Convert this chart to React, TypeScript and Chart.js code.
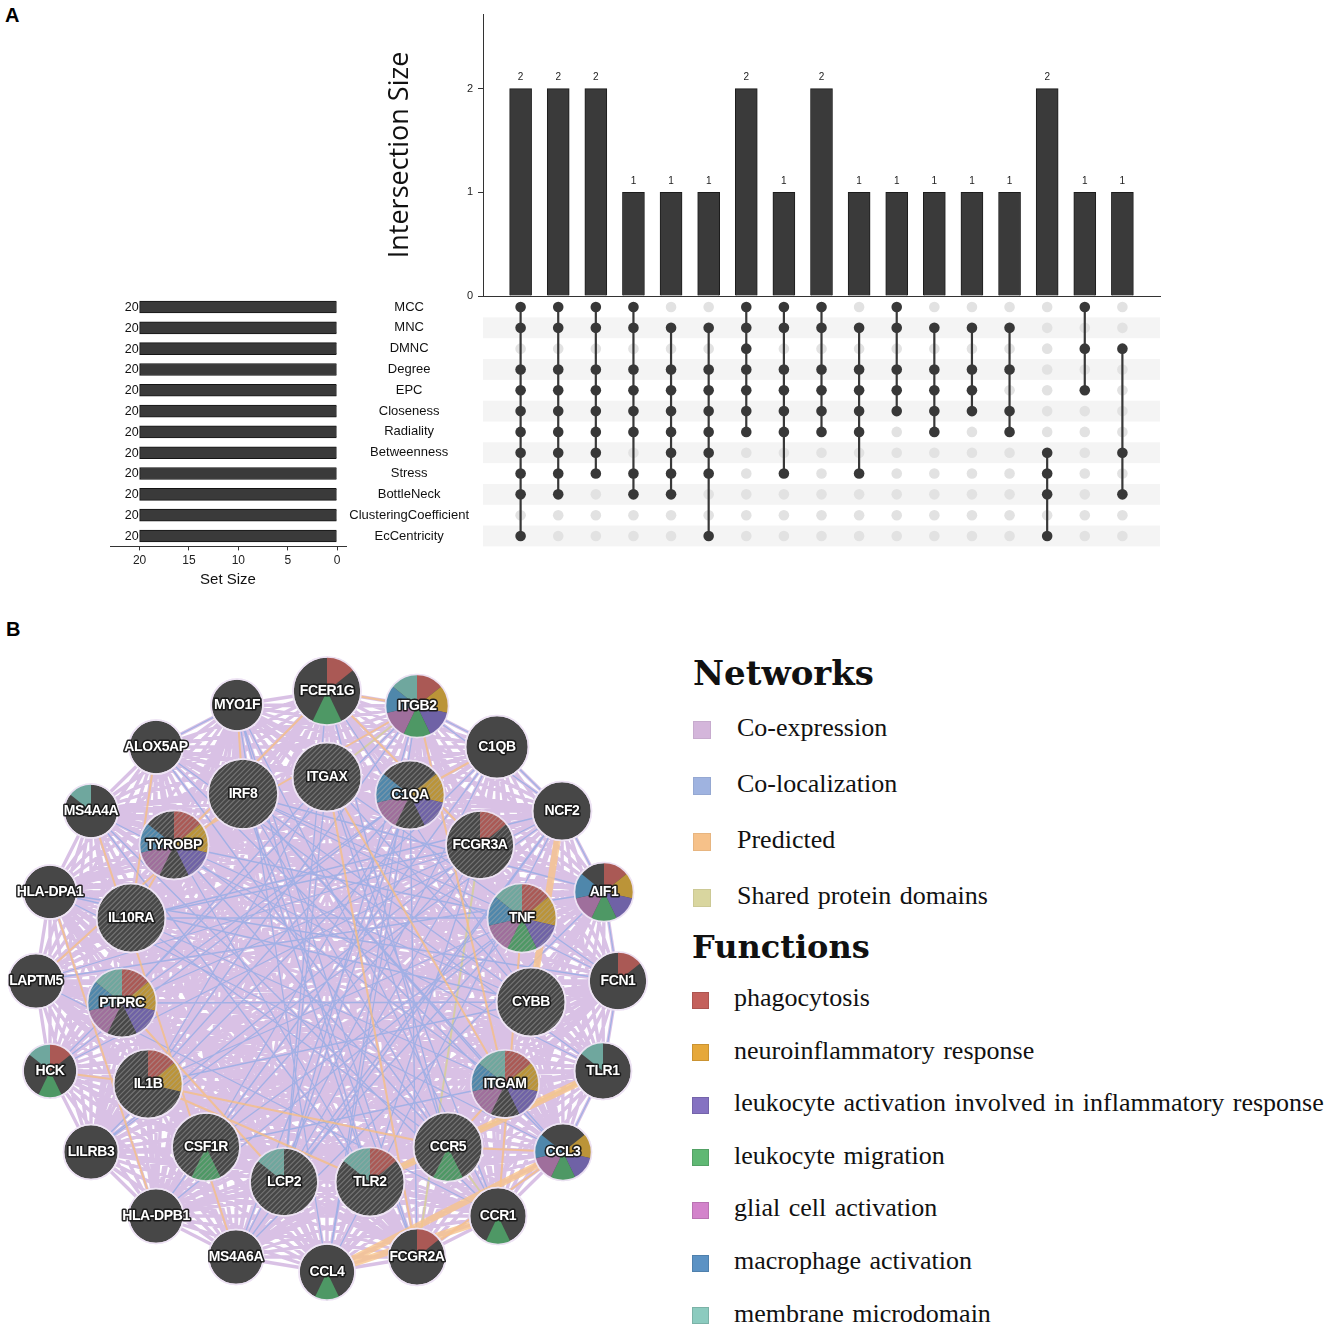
import React, { useEffect, useRef } from 'react';
import { Chart, registerables } from 'chart.js';

Chart.register(...registerables);

const SANS = '"Liberation Sans", Arial, sans-serif';
const SERIF = '"Liberation Serif", "Times New Roman", serif';
const SERIF_BOLD = '"DejaVu Serif", serif';

// ---------------- Panel A data ----------------
const setNames = ['MCC', 'MNC', 'DMNC', 'Degree', 'EPC', 'Closeness', 'Radiality', 'Betweenness', 'Stress', 'BottleNeck', 'ClusteringCoefficient', 'EcCentricity'];
const setSizes = [20, 20, 20, 20, 20, 20, 20, 20, 20, 20, 20, 20];
const setSizeTicks = [20, 15, 10, 5, 0];
const intersectionTicks = [0, 1, 2];
const intersectionSizes = [2, 2, 2, 1, 1, 1, 2, 1, 2, 1, 1, 1, 1, 1, 2, 1, 1];
// row indices (into setNames) that belong to each intersection column
const intersectionMembers = [
  [0, 1, 3, 4, 5, 6, 7, 8, 9, 11],
  [0, 1, 3, 4, 5, 6, 7, 8, 9],
  [0, 1, 3, 4, 5, 6, 7, 8],
  [0, 1, 3, 4, 5, 6, 8, 9],
  [1, 3, 4, 5, 6, 7, 8, 9],
  [1, 3, 4, 5, 6, 7, 8, 11],
  [0, 1, 2, 3, 4, 5, 6],
  [0, 1, 3, 4, 5, 6, 8],
  [0, 1, 3, 4, 5, 6],
  [1, 3, 4, 5, 6, 8],
  [0, 1, 3, 4, 5],
  [1, 3, 4, 5, 6],
  [1, 3, 4, 5],
  [1, 3, 5, 6],
  [7, 8, 9, 11],
  [0, 2, 4],
  [2, 7, 9],
];

// ---------------- Panel B data ----------------
const geneNames = ['MYO1F', 'FCER1G', 'ITGB2', 'C1QB', 'NCF2', 'AIF1', 'FCN1', 'TLR1', 'CCL3', 'CCR1', 'FCGR2A', 'CCL4', 'MS4A6A', 'HLA-DPB1', 'LILRB3', 'HCK', 'LAPTM5', 'HLA-DPA1', 'MS4A4A', 'ALOX5AP',
  'IRF8', 'ITGAX', 'C1QA', 'FCGR3A', 'TNF', 'CYBB', 'ITGAM', 'CCR5', 'TLR2', 'LCP2', 'CSF1R', 'IL1B', 'PTPRC', 'IL10RA', 'TYROBP'];
const geneX = [237, 327, 417, 497, 562, 604, 618, 603, 563, 498, 417, 327, 236, 156, 91, 50, 36, 50, 91, 156,
  243, 327, 410, 480, 522, 531, 505, 448, 370, 284, 206, 148, 122, 131, 174];
const geneY = [705, 691, 706, 747, 811, 892, 981, 1071, 1152, 1216, 1257, 1272, 1257, 1216, 1152, 1071, 981, 892, 811, 747,
  794, 777, 795, 845, 918, 1002, 1084, 1147, 1182, 1182, 1147, 1084, 1003, 918, 845];
const geneR = [26, 34, 31.5, 31.5, 29.5, 29.5, 29, 28.5, 28.5, 28.5, 28.5, 28, 27.5, 27.5, 27.5, 27, 27.5, 27, 27, 27,
  35, 34.5, 34.5, 34, 34.5, 34.5, 34, 34.5, 34.5, 34, 34, 34.5, 34.5, 34.5, 34.5];
// function indices per gene (0 phagocytosis ... 6 membrane microdomain)
const geneFunctions = [
  [], [0, 3], [0, 1, 2, 3, 4, 5, 6], [], [], [0, 1, 2, 3, 4, 5], [0], [6], [1, 2, 3, 4, 5], [3], [0], [3], [], [], [], [0, 3, 6], [], [], [6], [],
  [], [], [1, 2, 4, 5], [0], [0, 1, 2, 3, 4, 5, 6], [], [0, 1, 2, 4, 5, 6], [3], [0, 6], [6], [3], [0, 1], [0, 1, 2, 4, 5, 6], [], [0, 1, 2, 4, 5],
];
const queryGenes = ['IRF8', 'ITGAX', 'C1QA', 'FCGR3A', 'TNF', 'CYBB', 'ITGAM', 'CCR5', 'TLR2', 'LCP2', 'CSF1R', 'IL1B', 'PTPRC', 'IL10RA', 'TYROBP'];

const coLocalizationEdges = [
  ['ITGAX', 'CCR5'], ['ITGAX', 'LCP2'], ['ITGAX', 'CYBB'], ['ITGAX', 'IL1B'], ['ITGAX', 'PTPRC'], ['IRF8', 'TNF'], ['IRF8', 'ITGAM'], ['IRF8', 'CCR5'],
  ['IRF8', 'CYBB'], ['C1QA', 'IL1B'], ['C1QA', 'CSF1R'], ['C1QA', 'PTPRC'], ['C1QA', 'LCP2'], ['FCGR3A', 'PTPRC'], ['FCGR3A', 'IL10RA'], ['FCGR3A', 'CSF1R'],
  ['FCGR3A', 'TLR2'], ['TNF', 'TYROBP'], ['TNF', 'IL10RA'], ['TNF', 'LCP2'], ['CYBB', 'TYROBP'], ['CYBB', 'PTPRC'], ['CYBB', 'IL1B'], ['ITGAM', 'IL10RA'],
  ['ITGAM', 'TYROBP'], ['ITGAM', 'CSF1R'], ['CCR5', 'TYROBP'], ['CCR5', 'IL10RA'], ['TLR2', 'TYROBP'], ['TLR2', 'IRF8'], ['LCP2', 'FCGR3A'], ['IL1B', 'TNF'],
  ['CSF1R', 'TNF'], ['FCER1G', 'LCP2'], ['FCER1G', 'CCR5'], ['FCER1G', 'CYBB'], ['ITGB2', 'CCL4'], ['ITGB2', 'LCP2'], ['ITGB2', 'HCK'], ['ITGB2', 'IL1B'],
  ['C1QB', 'LILRB3'], ['C1QB', 'MS4A6A'], ['C1QB', 'CSF1R'], ['NCF2', 'HCK'], ['NCF2', 'IL10RA'], ['NCF2', 'LCP2'], ['AIF1', 'LAPTM5'], ['AIF1', 'IRF8'],
  ['AIF1', 'MS4A6A'], ['FCN1', 'HLA-DPA1'], ['FCN1', 'IRF8'], ['FCN1', 'ITGAX'], ['TLR1', 'MS4A4A'], ['TLR1', 'ALOX5AP'], ['CCL3', 'ALOX5AP'], ['CCL3', 'IRF8'],
  ['CCR1', 'MYO1F'], ['CCR1', 'ITGAX'], ['FCGR2A', 'IRF8'], ['FCGR2A', 'C1QA'], ['FCGR2A', 'MYO1F'], ['MS4A6A', 'C1QA'], ['MS4A6A', 'NCF2'], ['HLA-DPB1', 'TNF'],
  ['HLA-DPB1', 'C1QB'], ['LILRB3', 'FCGR3A'], ['LILRB3', 'NCF2'], ['HCK', 'C1QA'], ['LAPTM5', 'FCGR3A'], ['LAPTM5', 'CCR1'], ['HLA-DPA1', 'CCL3'], ['HLA-DPA1', 'CYBB'],
  ['MS4A4A', 'TLR2'], ['MS4A4A', 'CCR1'], ['ALOX5AP', 'CCR5'], ['MYO1F', 'CCL4'], ['MYO1F', 'TLR2'], ['CCL4', 'C1QA'], ['CCL4', 'NCF2'],
  ['ITGB2', 'C1QB'], ['C1QB', 'NCF2'], ['NCF2', 'AIF1'], ['AIF1', 'FCN1'], ['FCN1', 'TLR1'], ['TLR1', 'CCL3'], ['MYO1F', 'ALOX5AP'], ['ITGB2', 'NCF2'],
];
const predictedEdges = [
  ['ITGAX', 'ITGAM'], ['ITGB2', 'ITGAM'], ['ITGB2', 'TYROBP'], ['FCER1G', 'TYROBP'], ['FCER1G', 'ITGB2'], ['HLA-DPA1', 'HLA-DPB1'], ['MS4A4A', 'MS4A6A'],
  ['IL1B', 'TLR2'], ['IL1B', 'CCR5'], ['ALOX5AP', 'IL10RA'], ['TYROBP', 'IL10RA'], ['CCR5', 'ITGAM'], ['FCER1G', 'FCGR3A'], ['C1QA', 'C1QB'],
  ['CCR5', 'CCL3'], ['IRF8', 'LAPTM5'], ['TNF', 'CCR1'], ['FCGR2A', 'CCL3'], ['ITGAX', 'FCGR2A'], ['PTPRC', 'LCP2'], ['HCK', 'IL1B'], ['MYO1F', 'IRF8'],
];
const predictedStrongEdges = [['CCL4', 'CCL3'], ['TLR2', 'TLR1'], ['CCL4', 'CCR1'], ['NCF2', 'CYBB']];
const sharedDomainEdges = [['CCR1', 'CCR5'], ['FCGR2A', 'FCGR3A'], ['TLR1', 'TLR2'], ['ITGAX', 'ITGB2']];

const functionNames = ['phagocytosis', 'neuroinflammatory response', 'leukocyte activation involved in inflammatory response', 'leukocyte migration', 'glial cell activation', 'macrophage activation', 'membrane microdomain'];
const functionColors = ['#c4615c', '#e6a83a', '#8572c2', '#5fb873', '#d383cb', '#5b92c4', '#8ccbbf'];
const functionNodeColors = ['#aa5955', '#bb9438', '#6f62a6', '#4e9865', '#9f6f9c', '#4f87ab', '#6fa79e'];
const networkNames = ['Co-expression', 'Co-localization', 'Predicted', 'Shared protein domains'];
const networkColors = ['#d4b6db', '#9fb3e0', '#f6c189', '#d9d69f'];

// ---------------- helpers ----------------
const geneIndex = (n: string) => geneNames.indexOf(n);
function edgePoints(pairs: string[][]) {
  const pts: any[] = [];
  pairs.forEach(([a, b]) => {
    const i = geneIndex(a);
    const j = geneIndex(b);
    pts.push({ x: geneX[i], y: geneY[i] }, { x: geneX[j], y: geneY[j] }, { x: null, y: null });
  });
  return pts;
}
function allPairs() {
  const pairs: string[][] = [];
  for (let i = 0; i < geneNames.length; i++) for (let j = i + 1; j < geneNames.length; j++) pairs.push([geneNames[i], geneNames[j]]);
  return pairs;
}

const intersectionLabelPlugin = {
  id: 'intersectionLabels',
  afterDatasetsDraw(chart: any) {
    const { ctx } = chart;
    const meta = chart.getDatasetMeta(0);
    ctx.save();
    ctx.font = `10px ${SANS}`;
    ctx.fillStyle = '#222';
    ctx.textAlign = 'center';
    ctx.textBaseline = 'bottom';
    meta.data.forEach((el: any, i: number) => ctx.fillText(String(intersectionSizes[i]), el.x, el.y - 6));
    ctx.restore();
  },
};

const setSizeLabelPlugin = {
  id: 'setSizeLabels',
  afterDatasetsDraw(chart: any) {
    const { ctx } = chart;
    const meta = chart.getDatasetMeta(0);
    ctx.save();
    ctx.font = `12.5px ${SANS}`;
    ctx.fillStyle = '#111';
    ctx.textAlign = 'right';
    ctx.textBaseline = 'middle';
    meta.data.forEach((el: any, i: number) => ctx.fillText(String(setSizes[i]), el.x - 1, el.y + 0.5));
    ctx.restore();
  },
};

const bandPlugin = {
  id: 'rowBands',
  beforeDatasetsDraw(chart: any) {
    const { ctx, chartArea, scales } = chart;
    const y = scales.y;
    ctx.save();
    ctx.fillStyle = '#f4f4f4';
    setNames.forEach((_, i) => {
      if (i % 2 === 1) {
        const t = y.getPixelForValue(i - 0.5);
        const b = y.getPixelForValue(i + 0.5);
        ctx.fillRect(chartArea.left, t, chartArea.right - chartArea.left, b - t);
      }
    });
    ctx.restore();
  },
};

const genePiePlugin = {
  id: 'genePies',
  afterDatasetsDraw(chart: any) {
    const ctx = chart.ctx;
    const meta = chart.getDatasetMeta(chart.data.datasets.length - 1);
    const step = (Math.PI * 2) / 7;
    meta.data.forEach((el: any, i: number) => {
      const x = el.x;
      const y = el.y;
      const r = geneR[i];
      ctx.save();
      geneFunctions[i].forEach((f) => {
        const a0 = -Math.PI / 2 + f * step;
        ctx.beginPath();
        ctx.moveTo(x, y);
        ctx.arc(x, y, r, a0, a0 + step);
        ctx.closePath();
        ctx.fillStyle = functionNodeColors[f];
        ctx.fill();
      });
      if (queryGenes.includes(geneNames[i])) {
        ctx.save();
        ctx.beginPath();
        ctx.arc(x, y, r, 0, Math.PI * 2);
        ctx.clip();
        ctx.strokeStyle = 'rgba(170,170,170,0.45)';
        ctx.lineWidth = 1.1;
        for (let d = -2 * r; d <= 2 * r; d += 5.2) {
          ctx.beginPath();
          ctx.moveTo(x + d - r, y + r);
          ctx.lineTo(x + d + r, y - r);
          ctx.stroke();
        }
        ctx.restore();
      }
      ctx.beginPath();
      ctx.arc(x, y, r, 0, Math.PI * 2);
      ctx.strokeStyle = 'rgba(238,228,244,0.95)';
      ctx.lineWidth = 1.6;
      ctx.stroke();
      ctx.font = `bold 14px ${SANS}`;
      (ctx as any).letterSpacing = '-0.4px';
      ctx.textAlign = 'center';
      ctx.textBaseline = 'middle';
      ctx.lineJoin = 'round';
      ctx.lineWidth = 3.2;
      ctx.strokeStyle = 'rgba(25,25,25,0.95)';
      ctx.strokeText(geneNames[i], x, y);
      ctx.fillStyle = '#ffffff';
      ctx.fillText(geneNames[i], x, y);
      (ctx as any).letterSpacing = '0px';
      ctx.restore();
    });
  },
};

export default function App() {
  const topRef = useRef<HTMLCanvasElement>(null);
  const setRef = useRef<HTMLCanvasElement>(null);
  const matRef = useRef<HTMLCanvasElement>(null);
  const netRef = useRef<HTMLCanvasElement>(null);

  useEffect(() => {
    const charts: Chart[] = [];

    charts.push(new Chart(topRef.current!, {
      type: 'bar',
      data: {
        datasets: [{
          data: intersectionSizes.map((v, i) => ({ x: i, y: v })),
          backgroundColor: '#3a3a3a',
          borderColor: '#1c1c1c',
          borderWidth: 1,
          barThickness: 22,
        }],
      },
      options: {
        responsive: false,
        animation: false,
        layout: { autoPadding: false, padding: { top: 14, right: 10, bottom: 14, left: 0 } },
        plugins: { legend: { display: false }, tooltip: { enabled: false } },
        scales: {
          x: {
            type: 'linear', min: -1, max: 17, offset: false,
            ticks: { display: false }, grid: { display: false },
            border: { display: true, color: '#333', width: 1 },
            afterFit: (s: any) => { s.height = 0; },
          },
          y: {
            type: 'linear', min: 0, max: 2.72,
            afterBuildTicks: (s: any) => { s.ticks = intersectionTicks.map((v) => ({ value: v })); },
            ticks: { font: { size: 11, family: SANS }, color: '#222', padding: 5 },
            grid: { drawOnChartArea: false, drawTicks: true, tickLength: 5, color: '#333' },
            border: { color: '#333', width: 1 },
            title: { display: true, text: 'Intersection Size', font: { size: 27, family: '"Open Sans", sans-serif' }, color: '#111', padding: { top: 14, bottom: 0 } },
            afterFit: (s: any) => { s.width = 113; },
          },
        },
      } as any,
      plugins: [intersectionLabelPlugin],
    }));

    charts.push(new Chart(setRef.current!, {
      type: 'bar',
      data: {
        labels: setNames,
        datasets: [{ data: setSizes, backgroundColor: '#3a3a3a', borderColor: '#141414', borderWidth: 1, barThickness: 12 }],
      },
      options: {
        indexAxis: 'y',
        responsive: false,
        animation: false,
        layout: { autoPadding: false, padding: { top: 6.6, right: 14, bottom: 9.6, left: 10 } },
        plugins: { legend: { display: false }, tooltip: { enabled: false } },
        scales: {
          y: { display: false },
          x: {
            type: 'linear', reverse: true, min: -0.9, max: 23,
            afterBuildTicks: (s: any) => { s.ticks = setSizeTicks.map((v) => ({ value: v })); },
            ticks: { font: { size: 12, family: SANS }, color: '#222', padding: 3 },
            grid: { drawOnChartArea: false, drawTicks: true, tickLength: 4, color: '#333' },
            border: { color: '#333', width: 1 },
            title: { display: true, text: 'Set Size', font: { size: 15, family: SANS }, color: '#111', padding: { top: 2, bottom: 2 } },
            afterFit: (s: any) => { s.height = 44; },
          },
        },
      } as any,
      plugins: [setSizeLabelPlugin],
    }));

    const lightDots: any[] = [];
    const darkDots: any[] = [];
    const linkPts: any[] = [];
    intersectionMembers.forEach((rows, c) => {
      setNames.forEach((_, r) => {
        if (rows.includes(r)) darkDots.push({ x: c, y: r });
        else lightDots.push({ x: c, y: r });
      });
      linkPts.push({ x: c, y: Math.min(...rows) }, { x: c, y: Math.max(...rows) }, { x: null, y: null });
    });

    charts.push(new Chart(matRef.current!, {
      type: 'scatter',
      data: {
        datasets: [
          { data: darkDots, pointRadius: 5.3, pointBackgroundColor: '#383838', pointBorderWidth: 0, order: 1 },
          { data: linkPts, showLine: true, spanGaps: false, borderColor: '#383838', borderWidth: 2.2, pointRadius: 0, order: 2 },
          { data: lightDots, pointRadius: 5.3, pointBackgroundColor: '#e2e2e2', pointBorderWidth: 0, order: 3 },
        ],
      },
      options: {
        responsive: false,
        animation: false,
        layout: { autoPadding: false, padding: { top: 8.6, right: 10, bottom: 8.6, left: 0 } },
        plugins: { legend: { display: false }, tooltip: { enabled: false } },
        scales: {
          x: { type: 'linear', min: -1, max: 17, display: false },
          y: {
            type: 'linear', min: -0.5, max: 11.5, reverse: true,
            afterBuildTicks: (s: any) => { s.ticks = setNames.map((_, i) => ({ value: i })); },
            ticks: { callback: (v: any) => setNames[v], crossAlign: 'center', padding: 0, autoSkip: false, font: { size: 13, family: SANS }, color: '#111' },
            grid: { display: true, drawOnChartArea: false, drawTicks: true, tickLength: 14, color: 'rgba(0,0,0,0)' },
            border: { display: false },
            afterFit: (s: any) => { s.width = 143; },
          },
        },
      } as any,
      plugins: [bandPlugin],
    }));

    charts.push(new Chart(netRef.current!, {
      type: 'scatter',
      data: {
        datasets: [
          { data: edgePoints(allPairs()), showLine: true, spanGaps: false, borderColor: 'rgba(192,152,212,0.6)', borderWidth: 3.4, pointRadius: 0, order: 6 },
          { data: edgePoints(sharedDomainEdges), showLine: true, spanGaps: false, borderColor: 'rgba(214,208,150,0.8)', borderWidth: 2, pointRadius: 0, order: 5 },
          { data: edgePoints(coLocalizationEdges), showLine: true, spanGaps: false, borderColor: 'rgba(140,170,230,0.7)', borderWidth: 1.3, pointRadius: 0, order: 4 },
          { data: edgePoints(predictedEdges), showLine: true, spanGaps: false, borderColor: 'rgba(247,190,125,0.75)', borderWidth: 2, pointRadius: 0, order: 3 },
          { data: edgePoints(predictedStrongEdges), showLine: true, spanGaps: false, borderColor: 'rgba(247,196,140,0.8)', borderWidth: 7, pointRadius: 0, order: 2 },
          {
            type: 'bubble',
            data: geneNames.map((_, i) => ({ x: geneX[i], y: geneY[i], r: geneR[i] })),
            backgroundColor: '#474747',
            borderColor: 'rgba(238,228,244,0.95)',
            borderWidth: 1.6,
            order: 0,
          },
        ],
      } as any,
      options: {
        responsive: false,
        animation: false,
        layout: { autoPadding: false, padding: 0 },
        plugins: { legend: { display: false }, tooltip: { enabled: false } },
        scales: {
          x: { type: 'linear', min: 0, max: 665, display: false },
          y: { type: 'linear', min: 640, max: 1330, reverse: true, display: false },
        },
      } as any,
      plugins: [genePiePlugin],
    }));

    return () => charts.forEach((c) => c.destroy());
  }, []);

  const abs = (left: number, top: number, w: number, h: number): React.CSSProperties => ({ position: 'absolute', left, top, width: w, height: h });
  const netRow0 = 730;
  const netStep = 56;
  const fnRow0 = 1000;
  const fnStep = 52.6;
  const itemText: React.CSSProperties = { position: 'absolute', fontFamily: SERIF, fontSize: 26, lineHeight: '30px', color: '#111', whiteSpace: 'nowrap', wordSpacing: '2px' };

  return (
    <div style={{ position: 'absolute', left: 0, top: 0, width: 1325, height: 1330, background: '#fff', overflow: 'hidden' }}>
      <div style={{ position: 'absolute', left: 5, top: 5, fontFamily: SANS, fontWeight: 'bold', fontSize: 20, lineHeight: '20px' }}>A</div>
      <div style={{ position: 'absolute', left: 6, top: 619, fontFamily: SANS, fontWeight: 'bold', fontSize: 20, lineHeight: '20px' }}>B</div>

      <canvas ref={setRef} width={260} height={310} style={abs(100, 290, 260, 310)} />
      <canvas ref={matRef} width={830} height={267} style={abs(340, 288, 830, 267)} />
      <canvas ref={topRef} width={800} height={310} style={abs(370, 0, 800, 310)} />
      <canvas ref={netRef} width={665} height={690} style={abs(0, 640, 665, 690)} />

      <div style={{ position: 'absolute', left: 693, top: 653, fontFamily: SERIF_BOLD, fontWeight: 'bold', fontSize: 34, lineHeight: '40px', color: '#111', whiteSpace: 'nowrap' }}>Networks</div>
      {networkNames.map((n, i) => {
        const c = netRow0 + i * netStep;
        return (
          <React.Fragment key={n}>
            <div style={{ ...abs(693, c - 9, 18, 18), background: networkColors[i], boxShadow: 'inset 0 0 0 1px rgba(0,0,0,0.06)' }} />
            <div style={{ ...itemText, left: 737, top: c - 17 }}>{n}</div>
          </React.Fragment>
        );
      })}
      <div style={{ position: 'absolute', left: 692, top: 927, fontFamily: SERIF_BOLD, fontWeight: 'bold', fontSize: 32, lineHeight: '40px', color: '#111', whiteSpace: 'nowrap' }}>Functions</div>
      {functionNames.map((n, i) => {
        const c = fnRow0 + i * fnStep;
        return (
          <React.Fragment key={n}>
            <div style={{ ...abs(692, c - 8.5, 17, 17), background: functionColors[i], boxShadow: 'inset 0 0 0 1px rgba(0,0,0,0.12)' }} />
            <div style={{ ...itemText, left: 734, top: c - 17 }}>{n}</div>
          </React.Fragment>
        );
      })}
    </div>
  );
}
